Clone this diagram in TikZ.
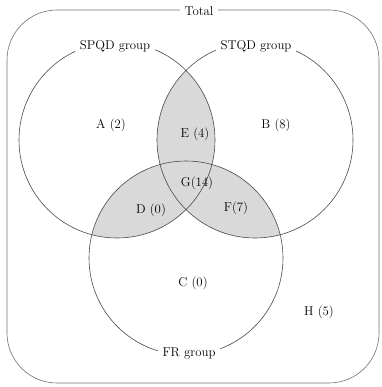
\documentclass[tikz,border=0pt]{standalone}
\usepackage{tikz}
\usetikzlibrary{calc}
\definecolor{ring}{HTML}{4A4A4A}
\definecolor{frame}{HTML}{707070}
\definecolor{lapgray}{HTML}{D9D9D9}

\begin{document}
\begin{tikzpicture}[x=1pt,y=-1pt,font=\fontsize{12.8}{14}\selectfont]
  \useasboundingbox (0,0) rectangle (381,387);
  \coordinate (SP) at (117,140);
  \coordinate (ST) at (255,140);
  \coordinate (FR) at (186,258);
  % pairwise overlaps
  \begin{scope}
    \clip (SP) circle (98pt);
    \fill[lapgray] (ST) circle (98pt);
    \fill[lapgray] (FR) circle (97pt);
  \end{scope}
  \begin{scope}
    \clip (ST) circle (98pt);
    \fill[lapgray] (FR) circle (97pt);
  \end{scope}
  \draw[frame,line width=0.6pt,rounded corners=50pt] (7,10) rectangle (379,383);
  \draw[ring,line width=0.6pt] (SP) circle (98pt);
  \draw[ring,line width=0.6pt] (ST) circle (98pt);
  \draw[ring,line width=0.6pt] (FR) circle (97pt);
  \node[fill=white,inner xsep=5pt] (total) at (199,11) {Total};
  \node[fill=white,inner xsep=5pt] (spqd) at (115,46) {SPQD group};
  \node[fill=white,inner xsep=5pt] (stqd) at (256,46) {STQD group};
  \node[fill=white,inner xsep=5pt] (frg) at (189,353) {FR group};
  \node (A) at (111,125) {A (2)};
  \node (B) at (276,125) {B (8)};
  \node (E) at (195,134) {E (4)};
  \node (G) at (197,183) {G(14)};
  \node (D) at (151,210) {D (0)};
  \node (F) at (236,208) {F(7)};
  \node (C) at (193,283) {C (0)};
  \node (H) at (319,312) {H (5)};
\end{tikzpicture}
\end{document}
